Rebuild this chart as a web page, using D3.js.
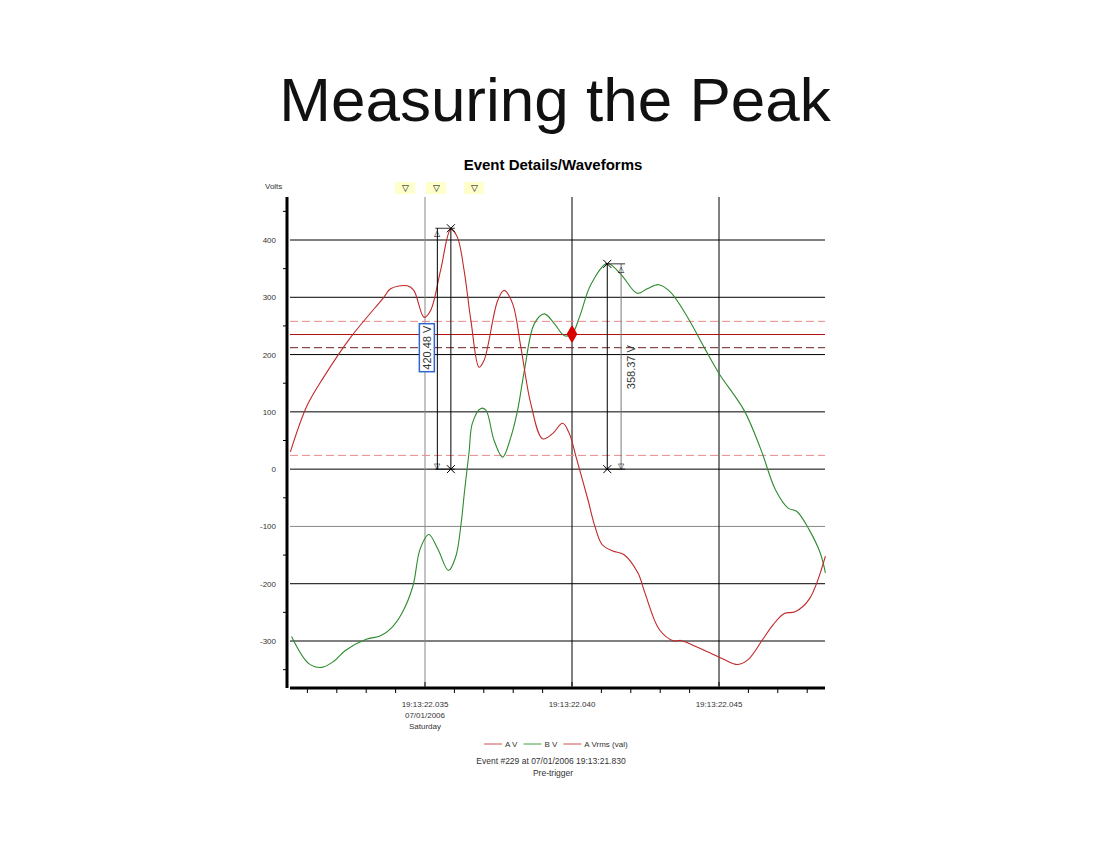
<!DOCTYPE html>
<html>
<head>
<meta charset="UTF-8" />
<script src="https://d3js.org/d3.v7.min.js"></script>
<style>
  body { margin: 0; background: #fff; font-family: "Liberation Sans", Arial, sans-serif; }
</style>
</head>
<body>
<svg id="chart" width="1106" height="857"></svg>
<script>
  // time in ms after 19:13:22.000, volts
  const seriesA = [
    [30.42, 30], [30.99, 111], [31.56, 161], [32.47, 230], [33.6, 300], [33.83, 315],
    [34.4, 320], [34.62, 312], [34.97, 265], [35.19, 277], [35.53, 347], [35.88, 419],
    [36.1, 405], [36.33, 347], [36.56, 260], [36.84, 178], [37.01, 190], [37.47, 294],
    [37.69, 312], [37.98, 289], [38.26, 213], [38.6, 114], [39.0, 53], [39.34, 62],
    [39.68, 80], [39.91, 62], [40.14, 21], [40.54, -53], [40.78, -100], [41.03, -132],
    [41.39, -143], [41.76, -149], [42.24, -181], [42.48, -216], [42.97, -280], [43.46, -300],
    [43.7, -299], [44.19, -309], [44.67, -320], [45.16, -332], [45.64, -341], [46.0, -332],
    [46.49, -297], [46.85, -271], [47.22, -252], [47.59, -249], [48.07, -227], [48.62, -152]
  ];
  const seriesB = [
    [30.46, -292], [31.06, -340], [31.49, -346], [31.91, -335], [32.28, -317], [33.0, -297],
    [33.49, -291], [33.86, -277], [34.22, -251], [34.59, -204], [34.83, -140], [35.13, -114],
    [35.44, -140], [35.8, -177], [36.05, -152], [36.23, -94], [36.35, -36], [36.5, 30],
    [36.61, 80], [36.9, 106], [37.07, 103], [37.35, 50], [37.64, 21], [37.92, 56],
    [38.15, 103], [38.38, 172], [38.72, 254], [39.06, 271], [39.4, 254], [39.74, 233],
    [40.0, 236], [40.25, 265], [40.65, 323], [41.2, 359], [41.65, 341], [42.22, 307],
    [42.56, 315], [42.95, 322], [43.35, 309], [43.92, 266], [44.49, 213], [45.0, 167],
    [45.85, 103], [46.42, 35], [46.92, -36], [47.35, -68], [47.65, -74], [48.07, -106],
    [48.44, -146], [48.62, -181]
  ];
  const yTicks = [400, 300, 200, 100, 0, -100, -200, -300];
  const xTicks = [35, 40, 45];
  const xLabels = [["19:13:22.035", "07/01/2006", "Saturday"], ["19:13:22.040"], ["19:13:22.045"]];
  const limitLines = [258, 24];   // light red dashed
  const rmsLine = 235;            // A Vrms (val)
  const refLine = 212;            // dark dashed
  const cursor = [40.0, 236];
  const peaks = [
    { t: 35.88, v: 420.48, arrowT: 35.42, labelT: 35.08, labelV: 212, label: "420.48 V", boxed: true },
    { t: 41.2, v: 358.37, arrowT: 41.67, labelT: 42.0, labelV: 178, label: "358.37 V", boxed: false }
  ];
  const markerX = [405, 436, 474];

  const svg = d3.select("#chart");
  const x = d3.scaleLinear().domain([35, 45]).range([425, 719]);
  const y = d3.scaleLinear().domain([400, -300]).range([240, 641]);
  const plotL = 290, plotR = 825, plotT = 197, plotB = 686;

  svg.append("text").attr("x", 555).attr("y", 121).attr("text-anchor", "middle")
    .attr("font-size", 62).attr("fill", "#111").text("Measuring the Peak");
  svg.append("text").attr("x", 553).attr("y", 170).attr("text-anchor", "middle")
    .attr("font-size", 15).attr("font-weight", "bold").text("Event Details/Waveforms");
  svg.append("text").attr("x", 265).attr("y", 189).attr("font-size", 8).attr("fill", "#333").text("Volts");

  markerX.forEach(mx => {
    svg.append("rect").attr("x", mx - 10).attr("y", 182).attr("width", 20).attr("height", 12).attr("fill", "#ffffcc");
    svg.append("text").attr("x", mx).attr("y", 191).attr("text-anchor", "middle").attr("font-size", 9).text("▽");
  });

  // grid
  yTicks.forEach(v => {
    svg.append("line").attr("x1", plotL).attr("x2", plotR).attr("y1", y(v)).attr("y2", y(v))
      .attr("stroke", v === -100 ? "#888" : "#000").attr("stroke-width", 1);
    svg.append("text").attr("x", 276).attr("y", y(v) + 3).attr("text-anchor", "end")
      .attr("font-size", 8).attr("fill", "#333").text(v);
  });
  xTicks.forEach((t, i) => {
    svg.append("line").attr("x1", x(t)).attr("x2", x(t)).attr("y1", plotT).attr("y2", plotB)
      .attr("stroke", i === 0 ? "#888" : "#000");
    xLabels[i].forEach((s, j) => svg.append("text").attr("x", x(t)).attr("y", 707 + j * 11)
      .attr("text-anchor", "middle").attr("font-size", 8).attr("fill", "#333").text(s));
  });

  // axes
  svg.append("line").attr("x1", 287).attr("x2", 287).attr("y1", plotT).attr("y2", plotB + 2)
    .attr("stroke", "#000").attr("stroke-width", 3);
  svg.append("line").attr("x1", plotL).attr("x2", plotR).attr("y1", 688).attr("y2", 688)
    .attr("stroke", "#000").attr("stroke-width", 3);
  d3.range(-350, 476, 50).filter(v => v % 100 !== 0).forEach(v =>
    svg.append("line").attr("x1", 283).attr("x2", 287).attr("y1", y(v)).attr("y2", y(v)).attr("stroke", "#000"));
  d3.range(31, 49).forEach(t =>
    svg.append("line").attr("x1", x(t)).attr("x2", x(t)).attr("y1", 688).attr("y2", t % 5 === 0 ? 682 : 693).attr("stroke", "#000"));

  // horizontal reference lines
  limitLines.forEach(v => svg.append("line").attr("x1", plotL).attr("x2", plotR).attr("y1", y(v)).attr("y2", y(v))
    .attr("stroke", "#e88a8a").attr("stroke-dasharray", "8,4"));
  svg.append("line").attr("x1", plotL).attr("x2", plotR).attr("y1", y(refLine)).attr("y2", y(refLine))
    .attr("stroke", "#6a2020").attr("stroke-dasharray", "8,4");
  svg.append("line").attr("x1", plotL).attr("x2", plotR).attr("y1", y(rmsLine)).attr("y2", y(rmsLine))
    .attr("stroke", "#b01010").attr("stroke-width", 1);

  const line = d3.line().x(d => x(d[0])).y(d => y(d[1])).curve(d3.curveCatmullRom);
  svg.append("path").attr("d", line(seriesB)).attr("fill", "none").attr("stroke", "#2e8b2e").attr("stroke-width", 1.1);
  svg.append("path").attr("d", line(seriesA)).attr("fill", "none").attr("stroke", "#c02828").attr("stroke-width", 1.1);

  svg.append("path").attr("d", d3.symbol(d3.symbolDiamond, 60)())
    .attr("transform", `translate(${x(cursor[0])},${y(cursor[1])})`).attr("fill", "#dd0000")
    .attr("stroke", "#dd0000").attr("stroke-width", 2).attr("stroke-linejoin", "round");

  // peak measurements
  peaks.forEach(p => {
    const px = x(p.t), ax = x(p.arrowT);
    svg.append("line").attr("x1", px).attr("x2", px).attr("y1", y(p.v)).attr("y2", y(0)).attr("stroke", "#000");
    svg.append("line").attr("x1", ax).attr("x2", ax).attr("y1", y(p.v)).attr("y2", y(0))
      .attr("stroke", p.boxed ? "#000" : "#777");
    [p.v, 0].forEach(v => {
      svg.append("line").attr("x1", Math.min(px, ax) - 2).attr("x2", Math.max(px, ax) + 4)
        .attr("y1", y(v)).attr("y2", y(v)).attr("stroke", "#000").attr("stroke-width", 0.8);
      svg.append("path").attr("d", "M-4,-4L4,4M-4,4L4,-4").attr("transform", `translate(${px},${y(v)})`)
        .attr("stroke", "#000").attr("fill", "none");
    });
    svg.append("text").attr("x", ax).attr("y", y(p.v) + 8).attr("text-anchor", "middle").attr("font-size", 8).text("△");
    svg.append("text").attr("x", ax).attr("y", y(0)).attr("text-anchor", "middle").attr("font-size", 8).text("▽");
    const g = svg.append("g").attr("transform", `translate(${x(p.labelT)},${y(p.labelV)}) rotate(-90)`);
    if (p.boxed) {
      g.append("rect").attr("x", -24).attr("y", -8).attr("width", 48).attr("height", 15)
        .attr("fill", "#fff").attr("stroke", "#3366cc").attr("stroke-width", 1.5);
    }
    g.append("text").attr("text-anchor", "middle").attr("y", 4).attr("font-size", 11).attr("fill", "#333").text(p.label);
  });

  // legend
  const legend = [["A V", "#d05050"], ["B V", "#40a040"], ["A Vrms (val)", "#d05050"]];
  let lx = 484;
  legend.forEach(([name, c]) => {
    svg.append("line").attr("x1", lx).attr("x2", lx + 18).attr("y1", 744).attr("y2", 744).attr("stroke", c);
    const t = svg.append("text").attr("x", lx + 21).attr("y", 747).attr("font-size", 8).attr("fill", "#333").text(name);
    lx += 23 + t.node().getComputedTextLength() + 4;
  });
  svg.append("text").attr("x", 551).attr("y", 764).attr("text-anchor", "middle").attr("font-size", 8.5).attr("fill", "#333")
    .text("Event #229 at 07/01/2006 19:13:21.830");
  svg.append("text").attr("x", 553).attr("y", 776).attr("text-anchor", "middle").attr("font-size", 8.5).attr("fill", "#333")
    .text("Pre-trigger");
</script>
</body>
</html>
